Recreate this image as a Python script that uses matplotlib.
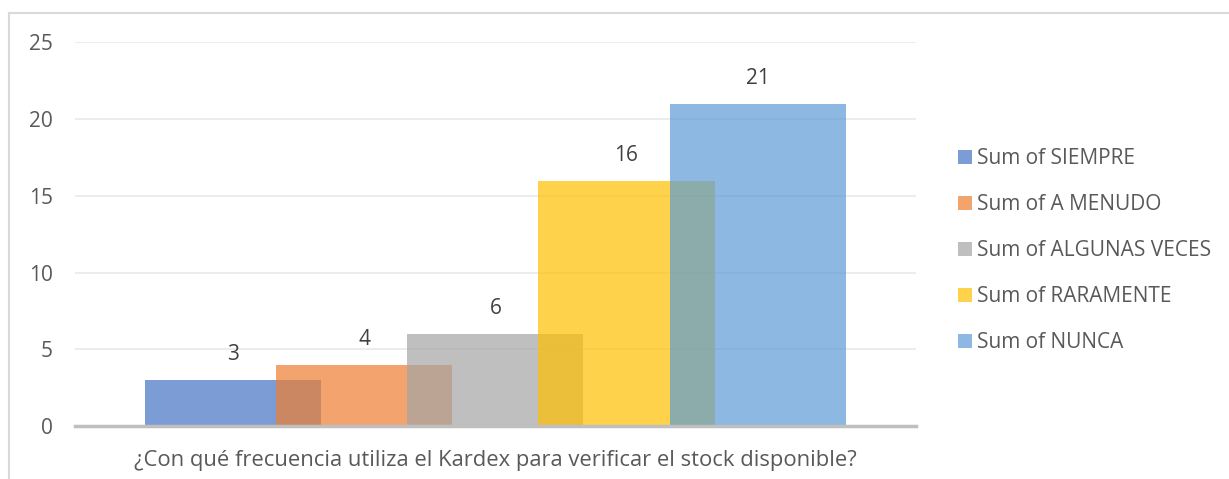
import matplotlib.pyplot as plt
from matplotlib.lines import Line2D

# Datos del gráfico
categoria = "¿Con qué frecuencia utiliza el Kardex para verificar el stock disponible?"
series = ['Sum of SIEMPRE', 'Sum of A MENUDO', 'Sum of ALGUNAS VECES',
          'Sum of RARAMENTE', 'Sum of NUNCA']
valores = [3, 4, 6, 16, 21]
colores = ['#4472C4', '#ED7D31', '#A5A5A5', '#FFC000', '#5B9BD5']
yticks = [0, 5, 10, 15, 20, 25]

plt.rcParams['font.family'] = ['Open Sans', 'DejaVu Sans']
texto = '#595959'
fs = 15

fig = plt.figure(figsize=(12.29, 4.79), dpi=100)
ax = fig.add_axes([0.061, 0.1106, 0.6843, 0.8007])

ancho = 0.2093
paso = 0.1558
for i, (nombre, v, c) in enumerate(zip(series, valores, colores)):
    x = (i - 2) * paso
    ax.bar(x, v, width=ancho, color=c, alpha=0.7, label=nombre, zorder=2 + i,
           linewidth=0)
    ax.annotate(str(v), (x, v), xytext=(0, 18), textcoords='offset points',
                ha='center', va='center', fontsize=fs, color='#404040')

ax.set_xlim(-0.5, 0.5)
ax.set_ylim(0, 25)
ax.set_yticks(yticks)
ax.set_xticks([0])
ax.set_xticklabels([categoria])
ax.tick_params(axis='both', length=0, labelsize=fs, colors=texto)
ax.tick_params(axis='x', labelsize=15.8, pad=17)
ax.tick_params(axis='y', pad=16)
ax.grid(axis='y', color='#ececec', linewidth=1.4, zorder=0)
for s in ['top', 'right', 'left']:
    ax.spines[s].set_visible(False)
ax.spines['bottom'].set_color('#bfbfbf')
ax.spines['bottom'].set_linewidth(2.5)
ax.spines['bottom'].set_zorder(10)

leg = fig.legend(loc='center left', bbox_to_anchor=(0.7795, 0.476), frameon=False,
                 fontsize=fs, labelcolor=texto, handlelength=0.67,
                 handleheight=0.67, handletextpad=0.25, labelspacing=1.2,
                 borderpad=0, borderaxespad=0)

# Borde del gráfico
fig.add_artist(Line2D([0.0075, 1.0], [0.973, 0.973], color='#d9d9d9', lw=1.5,
                      transform=fig.transFigure))
fig.add_artist(Line2D([0.0075, 0.0075], [0.0, 0.973], color='#d9d9d9', lw=1.5,
                      transform=fig.transFigure))

fig.savefig('out.png', dpi=100)
